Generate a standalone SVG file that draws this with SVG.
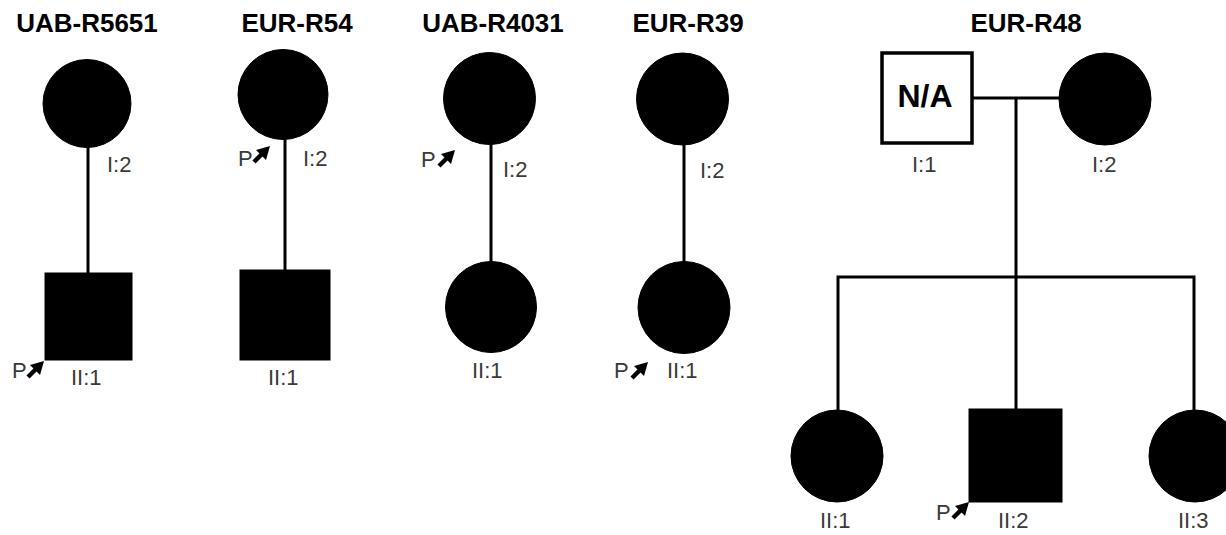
<svg xmlns="http://www.w3.org/2000/svg" width="1226" height="535" viewBox="0 0 1226 535">
  <style>
    .title { font-family: "Liberation Sans", Arial, sans-serif; font-weight: bold; font-size: 26px; fill: #000; text-anchor: middle; }
    .lbl { font-family: "Liberation Sans", Arial, sans-serif; font-size: 22px; fill: #3a3a3a; }
    .na { font-family: "Liberation Sans", Arial, sans-serif; font-weight: bold; font-size: 32px; fill: #000; text-anchor: middle; }
    .aff { fill: #000; stroke: #000; stroke-width: 1; }
    .unk { fill: #fff; stroke: #000; stroke-width: 3.5; }
    .link { stroke: #000; stroke-width: 3; fill: none; }
  </style>
  <defs>
    <!-- proband arrow: origin at the tail, pointing up-right -->
    <g id="proband">
      <line x1="0" y1="0" x2="9" y2="-9" stroke="#000" stroke-width="4.5"/>
      <polygon points="16,-16 2,-12 12,-2" fill="#000"/>
    </g>
  </defs>

  <!-- family titles -->
  <text class="title" x="87" y="32">UAB-R5651</text>
  <text class="title" x="297" y="32">EUR-R54</text>
  <text class="title" x="493" y="32">UAB-R4031</text>
  <text class="title" x="688" y="32">EUR-R39</text>
  <text class="title" x="1026" y="32">EUR-R48</text>

  <!-- connectors -->
  <g id="connectors">
    <line class="link" x1="88" y1="146" x2="88" y2="274"/>
    <line class="link" x1="285" y1="138" x2="285" y2="271"/>
    <line class="link" x1="491" y1="143" x2="491" y2="263"/>
    <line class="link" x1="684" y1="144" x2="684" y2="263"/>
    <line class="link" x1="973" y1="98" x2="1060" y2="98"/>
    <line class="link" x1="1016" y1="98" x2="1016" y2="277"/>
    <polyline class="link" points="838,411 838,277 1194,277 1194,411"/>
    <line class="link" x1="1016" y1="277" x2="1016" y2="410"/>
  </g>

  <!-- UAB-R5651 -->
  <g id="uab5651-I2">
    <circle class="aff" cx="87" cy="103.5" r="44"/>
    <text class="lbl" x="107" y="172">I:2</text>
  </g>
  <g id="uab5651-II1">
    <rect class="aff" x="45" y="273" width="87" height="87"/>
    <text class="lbl" x="71" y="385">II:1</text>
    <text class="lbl" x="12" y="378">P</text>
    <use href="#proband" x="28" y="377"/>
  </g>

  <!-- EUR-R54 -->
  <g id="eur54-I2">
    <circle class="aff" cx="283" cy="94.5" r="45"/>
    <text class="lbl" x="238" y="166">P</text>
    <use href="#proband" x="254" y="162"/>
    <text class="lbl" x="303" y="166">I:2</text>
  </g>
  <g id="eur54-II1">
    <rect class="aff" x="240" y="270" width="90" height="90"/>
    <text class="lbl" x="268" y="385">II:1</text>
  </g>

  <!-- UAB-R4031 -->
  <g id="uab4031-I2">
    <circle class="aff" cx="489.5" cy="98.5" r="46"/>
    <text class="lbl" x="421" y="167">P</text>
    <use href="#proband" x="439" y="166"/>
    <text class="lbl" x="503" y="177">I:2</text>
  </g>
  <g id="uab4031-II1">
    <circle class="aff" cx="491" cy="307" r="45.5"/>
    <text class="lbl" x="472" y="378">II:1</text>
  </g>

  <!-- EUR-R39 -->
  <g id="eur39-I2">
    <circle class="aff" cx="682.5" cy="99" r="46"/>
    <text class="lbl" x="700" y="178">I:2</text>
  </g>
  <g id="eur39-II1">
    <circle class="aff" cx="684" cy="307.5" r="46"/>
    <text class="lbl" x="614" y="378">P</text>
    <use href="#proband" x="632" y="378"/>
    <text class="lbl" x="667" y="378">II:1</text>
  </g>

  <!-- EUR-R48 -->
  <g id="eur48-I1">
    <rect class="unk" x="882" y="53" width="90" height="90"/>
    <text class="na" x="925" y="107">N/A</text>
    <text class="lbl" x="912" y="172">I:1</text>
  </g>
  <g id="eur48-I2">
    <circle class="aff" cx="1105" cy="99" r="46"/>
    <text class="lbl" x="1092" y="172">I:2</text>
  </g>
  <g id="eur48-II1">
    <circle class="aff" cx="837" cy="456" r="46"/>
    <text class="lbl" x="820" y="528">II:1</text>
  </g>
  <g id="eur48-II2">
    <rect class="aff" x="969" y="409" width="93" height="93"/>
    <text class="lbl" x="936" y="520">P</text>
    <use href="#proband" x="953" y="518"/>
    <text class="lbl" x="998" y="528">II:2</text>
  </g>
  <g id="eur48-II3">
    <circle class="aff" cx="1195" cy="456" r="46"/>
    <text class="lbl" x="1178" y="528">II:3</text>
  </g>
</svg>
